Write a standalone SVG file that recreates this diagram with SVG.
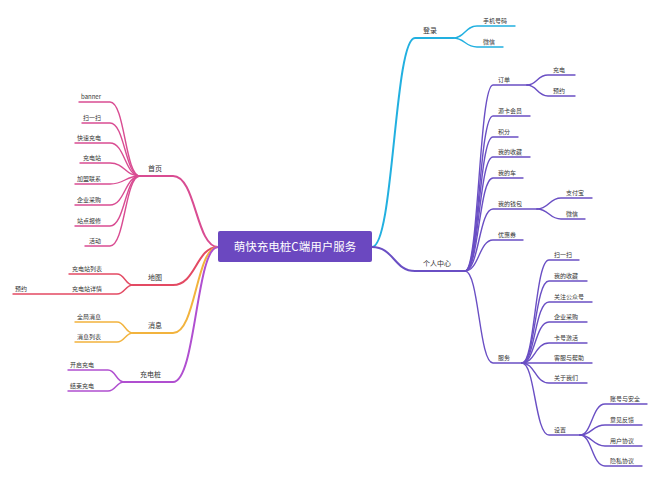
<svg xmlns="http://www.w3.org/2000/svg" width="660" height="481" viewBox="0 0 660 481">
<style>
text{font-family:"Noto Sans CJK SC","Noto Sans",sans-serif;fill:#333}
.c{font-size:6px}
.m{font-size:7px}
.r{text-anchor:end}
path,line{fill:none;stroke-linecap:round}
.pink{stroke:#d94c92}
.red{stroke:#e34a63}
.org{stroke:#f2b33d}
.vio{stroke:#b04fd0}
.cyan{stroke:#22b0e0}
.pur{stroke:#6a4fc4}
.b1{stroke-width:2}
.b2{stroke-width:1.4}
</style>
<rect width="660" height="481" fill="#fff"/>
<g id="connectors">
<!-- main branches -->
<path class="pink b1" d="M218 247C196 247 196 176 173 176H140"/>
<path class="red b1" d="M218 247C196 247 196 285 173 285H133"/>
<path class="org b1" d="M218 247C196 247 196 333 173 333H133"/>
<path class="vio b1" d="M218 247C196 247 196 382 173 382H124"/>
<path class="cyan b1" d="M372 247C394 247 394 38 415 38H453"/>
<path class="pur b1" d="M372 247C394 247 394 271 415 271H465"/>
<!-- 首页 children -->
<g class="pink b2">
<path d="M140 176C125 176 125 102 110 102H79"/>
<path d="M140 176C125 176 125 123 110 123H82"/>
<path d="M140 176C125 176 125 143 110 143H75"/>
<path d="M140 176C125 176 125 163 110 163H80"/>
<path d="M140 176C125 176 125 184 110 184H75"/>
<path d="M140 176C125 176 125 205 110 205H75"/>
<path d="M140 176C125 176 125 226 110 226H75"/>
<path d="M140 176C125 176 125 246 110 246H85"/>
</g>
<g class="red b2">
<path d="M133 285C125 285 125 274 117 274H69"/>
<path d="M133 285C125 285 125 294 117 294H13"/>
</g>
<g class="org b2">
<path d="M133 333C125 333 125 322 117 322H75"/>
<path d="M133 333C125 333 125 342 117 342H75"/>
</g>
<g class="vio b2">
<path d="M124 382C116 382 116 370 108 370H68"/>
<path d="M124 382C116 382 116 391 108 391H68"/>
</g>
<g class="cyan b2">
<path d="M453 38C465 38 465 26 477 26H515"/>
<path d="M453 38C465 38 465 47 477 47H503"/>
</g>
<g class="pur b2">
<path d="M465 271C479 271 479 85 493 85H527"/>
<path d="M527 85C537 85 537 75 548 75H575"/>
<path d="M527 85C537 85 537 96 548 96H575"/>
<path d="M465 271C479 271 479 116 493 116H530"/>
<path d="M465 271C479 271 479 137 493 137H518"/>
<path d="M465 271C479 271 479 157 493 157H530"/>
<path d="M465 271C479 271 479 178 493 178H523"/>
<path d="M465 271C479 271 479 209 493 209H537"/>
<path d="M537 209C549 209 549 198 561 198H592"/>
<path d="M537 209C549 209 549 219 561 219H585"/>
<path d="M465 271C479 271 479 240 493 240H523"/>
<path d="M465 271C479 271 479 363 493 363H522"/>
<path d="M522 363C535 363 535 260 549 260H579"/>
<path d="M522 363C535 363 535 281 549 281H587"/>
<path d="M522 363C535 363 535 302 549 302H592"/>
<path d="M522 363C535 363 535 322 549 322H587"/>
<path d="M522 363C535 363 535 343 549 343H587"/>
<path d="M522 363C535 363 535 363 549 363H592"/>
<path d="M522 363C535 363 535 383 549 383H587"/>
<path d="M522 363C535 363 535 435 549 435H580"/>
<path d="M580 435C592 435 592 404 605 404H647"/>
<path d="M580 435C592 435 592 425 605 425H642"/>
<path d="M580 435C592 435 592 446 605 446H642"/>
<path d="M580 435C592 435 592 466 605 466H642"/>
</g>
</g>
<g id="root">
<rect x="218" y="231" width="154" height="31" rx="2" fill="#6b48c0"/>
<text x="295" y="251" text-anchor="middle" style="font-size:11.5px;fill:#fff">萌快充电桩C端用户服务</text>
</g>
<g id="n-shouye"><text class="m" x="148" y="171">首页</text></g>
<g id="n-banner"><text class="c r" x="101" y="99">banner</text></g>
<g id="n-saoyisao1"><text class="c r" x="101" y="120">扫一扫</text></g>
<g id="n-kuaisu"><text class="c r" x="101" y="140">快速充电</text></g>
<g id="n-chongdianzhan"><text class="c r" x="101" y="160">充电站</text></g>
<g id="n-jiameng"><text class="c r" x="101" y="181">加盟联系</text></g>
<g id="n-qiye1"><text class="c r" x="101" y="202">企业采购</text></g>
<g id="n-baoxiu"><text class="c r" x="101" y="223">站点报修</text></g>
<g id="n-huodong"><text class="c r" x="101" y="243">活动</text></g>
<g id="n-ditu"><text class="m" x="148" y="280">地图</text></g>
<g id="n-liebiao"><text class="c" x="72" y="271">充电站列表</text></g>
<g id="n-xiangqing"><text class="c" x="72" y="291">充电站详情</text></g>
<g id="n-yuyue1"><text class="c" x="15" y="291">预约</text></g>
<g id="n-xiaoxi"><text class="m" x="148" y="328">消息</text></g>
<g id="n-quanju"><text class="c" x="77" y="319">全局消息</text></g>
<g id="n-xxlb"><text class="c" x="77" y="339">消息列表</text></g>
<g id="n-zhuang"><text class="m" x="140" y="377">充电桩</text></g>
<g id="n-kaiqi"><text class="c" x="70" y="367">开启充电</text></g>
<g id="n-jieshu"><text class="c" x="70" y="388">结束充电</text></g>
<g id="n-denglu"><text class="m" x="423" y="33">登录</text></g>
<g id="n-shouji"><text class="c" x="483" y="23">手机号码</text></g>
<g id="n-weixin1"><text class="c" x="483" y="44">微信</text></g>
<g id="n-geren"><text class="m" x="423" y="266">个人中心</text></g>
<g id="n-dingdan"><text class="c" x="498" y="82">订单</text></g>
<g id="n-chongdian"><text class="c" x="553" y="72">充电</text></g>
<g id="n-yuyue2"><text class="c" x="553" y="93">预约</text></g>
<g id="n-yuanka"><text class="c" x="498" y="113">源卡会员</text></g>
<g id="n-jifen"><text class="c" x="498" y="134">积分</text></g>
<g id="n-shoucang1"><text class="c" x="498" y="154">我的收藏</text></g>
<g id="n-che"><text class="c" x="498" y="175">我的车</text></g>
<g id="n-qianbao"><text class="c" x="498" y="206">我的钱包</text></g>
<g id="n-zhifubao"><text class="c" x="566" y="195">支付宝</text></g>
<g id="n-weixin2"><text class="c" x="566" y="216">微信</text></g>
<g id="n-youhui"><text class="c" x="498" y="237">优惠券</text></g>
<g id="n-fuwu"><text class="c" x="498" y="360">服务</text></g>
<g id="n-saoyisao2"><text class="c" x="554" y="257">扫一扫</text></g>
<g id="n-shoucang2"><text class="c" x="554" y="278">我的收藏</text></g>
<g id="n-guanzhu"><text class="c" x="554" y="299">关注公众号</text></g>
<g id="n-qiye2"><text class="c" x="554" y="319">企业采购</text></g>
<g id="n-jihuo"><text class="c" x="554" y="340">卡号激活</text></g>
<g id="n-kefu"><text class="c" x="554" y="360">客服与帮助</text></g>
<g id="n-guanyu"><text class="c" x="554" y="380">关于我们</text></g>
<g id="n-shezhi"><text class="c" x="554" y="432">设置</text></g>
<g id="n-zhanghao"><text class="c" x="610" y="401">账号与安全</text></g>
<g id="n-yijian"><text class="c" x="610" y="422">意见反馈</text></g>
<g id="n-yonghu"><text class="c" x="610" y="443">用户协议</text></g>
<g id="n-yinsi"><text class="c" x="610" y="463">隐私协议</text></g>
</svg>
